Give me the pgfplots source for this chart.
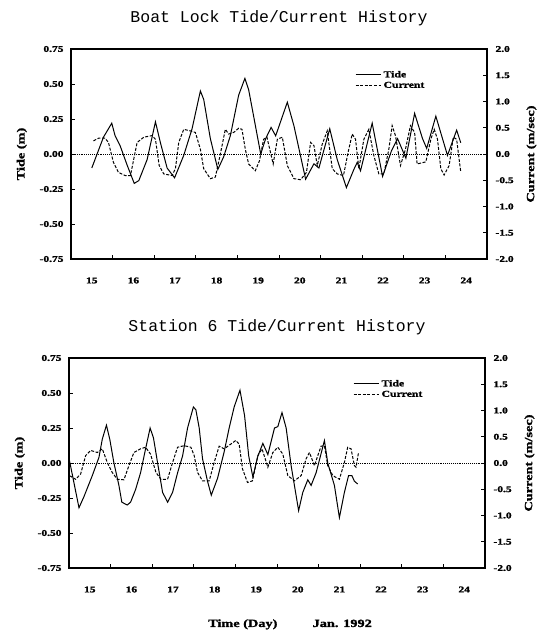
\documentclass[border=0pt]{standalone}
\usepackage{fontspec}
\setmainfont{Liberation Serif}
\newfontfamily\courier{Liberation Mono}
\newfontfamily\wb[FakeStretch=1.3,FakeBold=1.5]{Liberation Serif Bold}
\usepackage{pgfplots}
\pgfplotsset{compat=1.18}

\pgfplotstableread{
x y
15.50 -0.10
15.78 0.12
15.98 0.22
16.06 0.13
16.18 0.06
16.35 -0.08
16.52 -0.21
16.63 -0.19
16.83 -0.04
17.03 0.23
17.15 0.08
17.31 -0.10
17.49 -0.17
17.71 -0.01
17.91 0.18
18.11 0.45
18.19 0.39
18.35 0.11
18.53 -0.11
18.67 -0.02
18.83 0.13
19.03 0.42
19.18 0.54
19.27 0.46
19.39 0.27
19.56 0.00
19.68 0.11
19.81 0.19
19.92 0.13
20.20 0.37
20.36 0.20
20.64 -0.18
20.84 -0.07
20.96 -0.10
21.22 0.18
21.40 -0.04
21.62 -0.24
21.80 -0.11
21.88 -0.06
21.96 -0.12
22.24 0.22
22.49 -0.16
22.70 0.02
22.85 0.11
23.05 -0.03
23.26 0.29
23.45 0.11
23.55 0.04
23.77 0.27
23.93 0.11
24.05 -0.01
24.27 0.17
24.37 0.08
}\tideA

\pgfplotstableread{
x y
15.54 0.25
15.66 0.30
15.82 0.30
15.90 0.22
16.02 -0.16
16.14 -0.35
16.30 -0.41
16.43 -0.41
16.51 -0.09
16.59 0.22
16.75 0.32
16.95 0.35
17.03 0.28
17.12 -0.22
17.23 -0.38
17.43 -0.41
17.51 -0.28
17.59 0.22
17.71 0.47
17.87 0.44
17.99 0.41
18.11 0.09
18.19 -0.28
18.35 -0.47
18.47 -0.44
18.59 0.00
18.71 0.47
18.79 0.38
18.91 0.41
19.03 0.49
19.11 0.47
19.19 0.09
19.27 -0.19
19.43 -0.32
19.53 -0.13
19.63 0.28
19.71 0.32
19.86 -0.19
19.96 0.28
20.08 0.32
20.20 -0.22
20.36 -0.47
20.52 -0.49
20.66 -0.35
20.76 0.22
20.84 0.16
20.92 -0.22
21.04 0.19
21.16 0.44
21.28 -0.28
21.40 -0.38
21.55 -0.41
21.66 0.03
21.76 0.38
21.84 0.28
21.92 -0.28
22.04 0.28
22.16 0.47
22.28 -0.03
22.40 -0.38
22.52 -0.38
22.64 0.09
22.72 0.54
22.80 0.35
22.92 -0.22
23.04 0.09
23.16 0.54
23.26 0.41
23.32 -0.19
23.53 -0.15
23.65 0.28
23.73 0.47
23.81 0.28
23.89 -0.28
23.97 -0.40
24.09 -0.22
24.19 0.32
24.27 0.28
24.37 -0.35
}\currA

\pgfplotstableread{
x y
15.01 0.02
15.24 -0.32
15.36 -0.24
15.48 -0.15
15.56 -0.09
15.72 0.04
15.80 0.17
15.90 0.27
15.98 0.17
16.08 0.00
16.20 -0.16
16.27 -0.28
16.40 -0.30
16.48 -0.28
16.60 -0.19
16.72 -0.07
16.84 0.10
16.95 0.25
17.03 0.18
17.13 0.00
17.25 -0.21
17.37 -0.28
17.49 -0.21
17.61 -0.07
17.73 0.05
17.85 0.25
17.99 0.40
18.05 0.38
18.13 0.25
18.21 0.03
18.33 -0.13
18.42 -0.23
18.57 -0.11
18.73 0.08
18.85 0.25
18.97 0.40
19.11 0.52
19.22 0.34
19.32 0.05
19.42 -0.10
19.54 0.05
19.66 0.14
19.78 0.06
19.94 0.25
20.02 0.26
20.12 0.36
20.22 0.25
20.34 -0.02
20.52 -0.34
20.62 -0.21
20.74 -0.12
20.82 -0.16
20.94 -0.07
21.14 0.16
21.22 0.00
21.38 -0.16
21.50 -0.39
21.62 -0.21
21.72 -0.09
21.80 -0.09
21.86 -0.13
21.94 -0.15
}\tideB

\pgfplotstableread{
x y
15.01 -0.24
15.16 -0.31
15.28 -0.21
15.40 0.14
15.52 0.24
15.68 0.20
15.80 0.27
15.92 0.01
16.04 -0.18
16.16 -0.31
16.32 -0.32
16.44 -0.05
16.56 0.20
16.72 0.27
16.84 0.30
16.96 0.17
17.09 -0.18
17.21 -0.31
17.37 -0.31
17.49 0.01
17.61 0.30
17.77 0.33
17.93 0.30
18.01 0.14
18.09 -0.18
18.21 -0.34
18.37 -0.34
18.49 0.01
18.61 0.32
18.73 0.27
18.89 0.36
19.01 0.43
19.09 0.36
19.17 -0.11
19.29 -0.37
19.41 -0.34
19.54 0.14
19.64 0.27
19.78 -0.08
19.90 0.20
20.02 0.30
20.14 0.17
20.26 -0.24
20.42 -0.34
20.58 -0.24
20.70 0.08
20.78 0.20
20.90 -0.05
20.98 0.14
21.06 0.32
21.14 0.33
21.22 -0.05
21.34 -0.24
21.50 -0.31
21.62 0.01
21.70 0.30
21.78 0.27
21.86 -0.05
21.90 -0.08
21.96 0.20
}\currB

\newcommand\tickfont{\wb\fontsize{8.8}{9}\selectfont}
\newcommand\labfont{\wb\fontsize{11}{12}\selectfont}

\pgfplotsset{
  base/.style={scale only axis, width=416pt, height=210pt, xmin=15, xmax=25,
    /pgf/number format/assume math mode=true,
    tick label style={font=\tickfont},
    tick align=inside, major tick length=4pt, minor tick length=4pt,
    axis line style={line width=1.2pt}, tick style={line width=0.9pt, black}},
  tideax/.style={base, ymin=-0.75, ymax=0.75,
    ytick={-0.75,-0.5,-0.25,0,0.25,0.5,0.75},
    yticklabel style={xshift=-4pt, /pgf/number format/.cd, fixed, fixed zerofill, precision=2},
    ytick pos=left, xtick pos=bottom,
    xtick={15.5,16.5,...,24.5},
    xticklabels={15,16,17,18,19,20,21,22,23,24},
    minor xtick={16,...,24},
    major x tick style={draw=none},
    xticklabel style={yshift=-15pt},
    ylabel={Tide (m)}, ylabel style={font=\labfont, yshift=6pt},
    title style={font=\courier\fontsize{16.5}{18}\selectfont, yshift=14pt}},
  currax/.style={base, ymin=-2, ymax=2,
    ytick={-2,-1.5,...,2},
    yticklabel style={xshift=5pt, /pgf/number format/.cd, fixed, fixed zerofill, precision=1},
    axis x line=none, axis y line*=right,
    ylabel={Current (m/sec)}, ylabel style={font=\labfont, yshift=-6pt},
    legend style={at={(0.675,0.915)}, anchor=north west, draw=none, fill=none,
      font=\wb\fontsize{9}{10}\selectfont, row sep=-1pt},
    legend cell align=left,
    legend image code/.code={\draw[#1] (0cm,0cm) -- (0.9cm,0cm);}},
  tideline/.style={black, line width=1.0pt},
  currline/.style={black, line width=1.0pt, dash pattern=on 3pt off 1.6pt}
}

\begin{document}
\begin{tikzpicture}
\useasboundingbox (0,0) rectangle (549pt,632pt);
% top panel
\begin{axis}[tideax, at={(71pt,373pt)}, title={Boat Lock Tide/Current History}]
  \addplot[black, line width=0.9pt, densely dotted] coordinates {(15,0) (25,0)};
  \addplot[tideline] table {\tideA};
\end{axis}
\begin{axis}[currax, at={(71pt,373pt)}]
  \addlegendimage{tideline}
  \addlegendentry{Tide}
  \addplot[currline] table {\currA};
  \addlegendentry{Current}
\end{axis}
% bottom panel
\begin{axis}[tideax, at={(69pt,64pt)}, title={Station 6 Tide/Current History},
  xlabel={Time (Day)\hspace{3.2em}Jan. 1992},
  xlabel style={font=\labfont, xshift=13pt, yshift=-20pt}]
  \addplot[black, line width=0.9pt, densely dotted] coordinates {(15,0) (25,0)};
  \addplot[tideline] table {\tideB};
\end{axis}
\begin{axis}[currax, at={(69pt,64pt)}]
  \addlegendimage{tideline}
  \addlegendentry{Tide}
  \addplot[currline] table {\currB};
  \addlegendentry{Current}
\end{axis}
\end{tikzpicture}
\end{document}
